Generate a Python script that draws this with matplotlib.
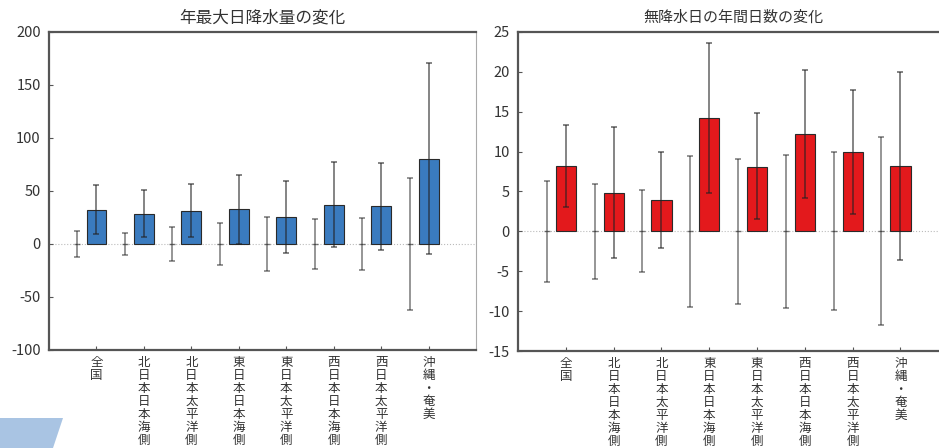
import matplotlib
matplotlib.use('Agg')
import numpy as np
import matplotlib.pyplot as plt
from matplotlib.patches import Polygon

plt.rcParams['font.family'] = ['Noto Sans CJK JP', 'DejaVu Sans']
plt.rcParams['axes.unicode_minus'] = False

regions = ['全国', '北日本日本海側', '北日本太平洋側', '東日本日本海側',
           '東日本太平洋側', '西日本日本海側', '西日本太平洋側', '沖縄・奄美']

# 年最大日降水量の変化
rain_change = [32, 28.6, 31.4, 32.7, 25.5, 37, 35.5, 79.9]
rain_upper = [55.3, 50.6, 56.3, 65.4, 59.1, 77, 76.4, 171]
rain_lower = [9.4, 6.3, 6.3, 0, -8.2, -3, -6, -9.7]
rain_base = [0, 0, 0, 0, 0, 0, 0, 0]
rain_base_sd = [12, 10.2, 16.3, 19.8, 25.3, 23.6, 24.3, 62.6]

# 無降水日の年間日数の変化
dry_change = [8.25, 4.8, 3.95, 14.2, 8.1, 12.16, 9.95, 8.25]
dry_upper = [13.4, 13.05, 9.97, 23.6, 14.8, 20.2, 17.7, 20.0]
dry_lower = [3.0, -3.4, -2.1, 4.8, 1.5, 4.15, 2.2, -3.6]
dry_base = [0, 0, 0, 0, 0, 0, 0, 0]
dry_base_sd = [6.3, 6.0, 5.15, 9.5, 9.1, 9.6, 9.9, 11.8]

fig = plt.figure(figsize=(9.39, 4.48), dpi=100)
ax1 = fig.add_axes([0.0522, 0.2188, 0.4548, 0.7098])
ax2 = fig.add_axes([0.5517, 0.2165, 0.4582, 0.7121])

txt = '#333333'
spine_c = '#555555'


def draw_panel(ax, change, upper, lower, base, base_sd, color, ylim, yticks, title, tsize):
    x = np.arange(1, len(regions) + 1)
    change = np.array(change)
    yerr = [change - np.array(lower), np.array(upper) - change]
    ax.axhline(0, color='#bbbbbb', lw=0.8, ls=':', zorder=0)
    ax.bar(x, change, width=0.42, color=color, edgecolor='#2a2a2a', linewidth=0.8, zorder=2)
    ax.errorbar(x, change, yerr=yerr, fmt='none', ecolor='#222222', alpha=0.7,
                elinewidth=1.1, capsize=2, capthick=1.1, zorder=3)
    ax.errorbar(x - 0.4, base, yerr=base_sd, fmt='_', color='#222222', ms=4,
                ecolor='#222222', alpha=0.6, elinewidth=1.1, capsize=2, capthick=1.1, zorder=3)
    ax.set_xlim(0, 9)
    ax.set_ylim(*ylim)
    ax.set_yticks(yticks)
    ax.set_xticks(x)
    ax.set_xticklabels(['\n'.join(r) for r in regions], fontsize=9, color=txt,
                       linespacing=1.0)
    ax.tick_params(axis='both', direction='in', length=3, color=spine_c, width=0.8)
    ax.tick_params(axis='y', labelsize=10.5, labelcolor=txt, pad=6)
    ax.tick_params(axis='x', pad=4)
    for s in ['left', 'bottom', 'top']:
        ax.spines[s].set_color(spine_c)
        ax.spines[s].set_linewidth(1.6)
    ax.spines['right'].set_color('#aaaaaa')
    ax.spines['right'].set_linewidth(0.8)
    ax.set_title(title, fontsize=tsize, color=txt, pad=7)


draw_panel(ax1, rain_change, rain_upper, rain_lower, rain_base, rain_base_sd,
           '#3a7bbf', (-100, 200), range(-100, 201, 50), '年最大日降水量の変化', 12)
draw_panel(ax2, dry_change, dry_upper, dry_lower, dry_base, dry_base_sd,
           '#e3191c', (-15, 25), range(-15, 26, 5), '無降水日の年間日数の変化', 10.8)

# decorative shape at bottom left
fig.patches.append(Polygon([[0, 30 / 448], [63 / 939, 30 / 448], [53 / 939, 0], [0, 0]],
                           closed=True, transform=fig.transFigure,
                           facecolor='#a9c4e3', edgecolor='none', zorder=-1))

fig.savefig('out.png', dpi=100)
